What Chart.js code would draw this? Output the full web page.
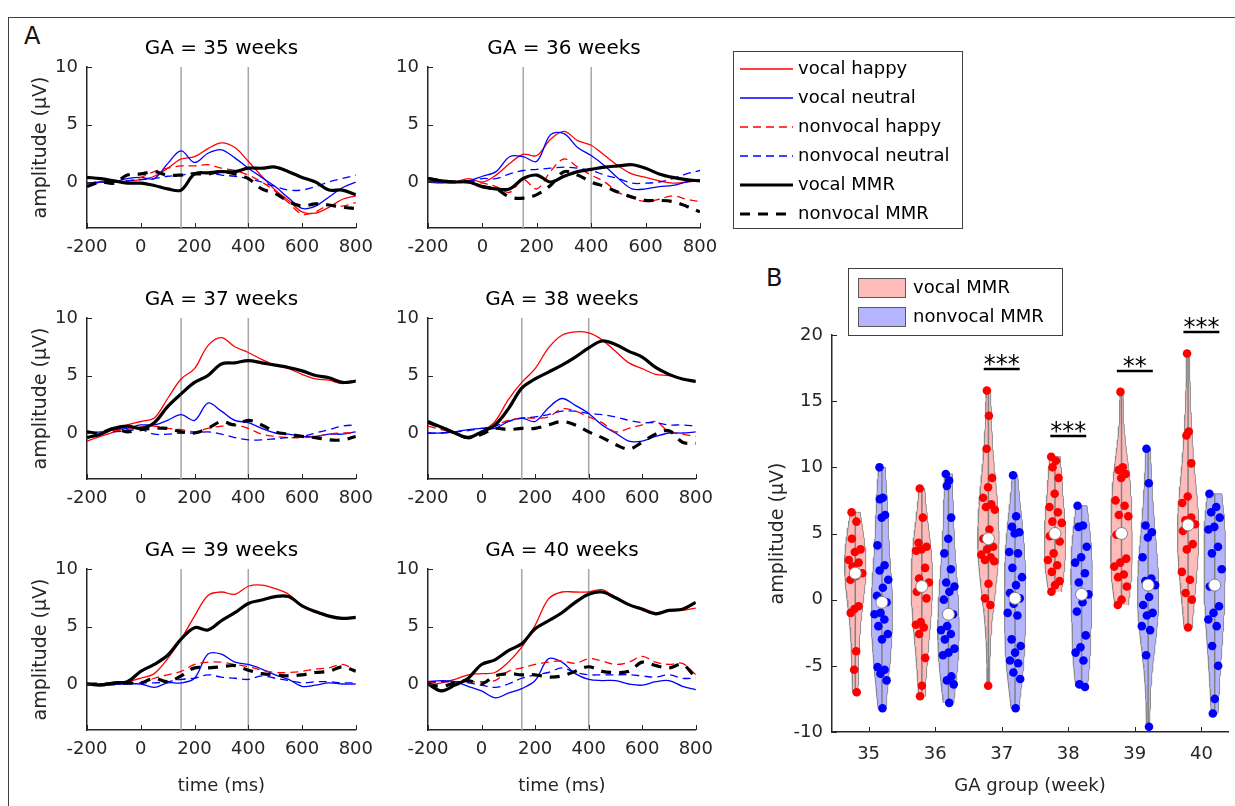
<!DOCTYPE html>
<html>
<head>
<meta charset="utf-8">
<script src="https://cdn.jsdelivr.net/npm/chart.js@4.4.1/dist/chart.umd.min.js"></script>
<style>
  body { margin: 0; background: #fff; width: 1235px; height: 806px; position: relative; overflow: hidden; }
  canvas { position: absolute; }
  .frame { position: absolute; left: 8px; top: 17px; width: 1240px; height: 800px; border-left: 1px solid #404040; border-top: 1px solid #404040; }
  .lbl { position: absolute; font: 24px/1 "DejaVu Sans", sans-serif; color: #111; }
</style>
</head>
<body>
<div class="frame"></div>
<div class="lbl" style="left:24px;top:24px">A</div>
<div class="lbl" style="left:766px;top:266px">B</div>
<script>
// ---- panel A : grand-average waveforms, sampled every 50 ms ----
const TIMES = [-200, -150, -100, -50, 0, 50, 100, 150, 200, 250, 300, 350, 400, 450, 500, 550, 600, 650, 700, 750, 800];
const WEEKS = [35, 36, 37, 38, 39, 40];
const MARKERS = [150, 400];
const X_TICKS = [-200, 0, 200, 400, 600, 800];
const Y_TICKS = [0, 5, 10];

const vocalHappy = [
  [-0.4, 0.0, 0.0, 0.1, 0.2, 0.5, 1.2, 2.0, 2.2, 2.9, 3.4, 3.0, 1.8, 0.5, -0.7, -1.6, -2.6, -2.7, -2.2, -1.5, -1.2],
  [0.0, -0.1, 0.0, 0.3, 0.0, 0.6, 1.6, 2.4, 2.3, 3.7, 4.4, 3.6, 3.2, 2.3, 1.4, 0.7, 0.4, 0.1, -0.1, 0.0, 0.1],
  [-0.7, -0.3, 0.1, 0.7, 1.0, 1.3, 3.0, 4.7, 5.6, 7.6, 8.3, 7.5, 7.0, 6.4, 5.9, 5.6, 5.1, 4.7, 4.6, 4.3, 4.6],
  [0.9, 0.5, 0.0, -0.4, 0.1, 1.0, 2.9, 4.4, 5.6, 7.4, 8.5, 8.8, 8.7, 8.1, 7.1, 6.1, 5.6, 5.1, 5.0, 4.7, 4.4],
  [0.0, -0.1, 0.1, 0.2, 0.5, 0.9, 2.2, 3.9, 5.9, 7.7, 8.0, 7.8, 8.5, 8.6, 8.3, 7.8, 6.8, 6.2, 5.9, 5.7, 5.8],
  [-0.1, 0.1, 0.4, 0.8, 0.9, 1.0, 1.9, 3.2, 5.1, 7.4, 8.0, 8.0, 8.0, 8.2, 7.5, 6.9, 6.6, 6.2, 6.4, 6.4, 6.6]
];
const vocalNeutral = [
  [-0.1, 0.0, 0.0, 0.3, 0.4, 0.3, 1.6, 2.7, 1.7, 2.5, 2.8, 2.1, 1.2, 0.4, -0.4, -1.4, -2.3, -2.1, -1.3, -0.5, 0.0],
  [0.0, 0.0, 0.0, 0.1, 0.5, 0.9, 2.2, 2.2, 1.8, 4.1, 4.2, 3.0, 2.3, 1.4, 0.3, -0.6, -0.6, -0.4, -0.3, 0.0, 0.2],
  [0.0, 0.1, 0.3, 0.4, 0.7, 0.7, 1.1, 1.6, 1.1, 2.6, 1.9, 1.1, 0.9, 0.4, 0.0, -0.1, -0.3, -0.3, -0.1, -0.1, 0.1],
  [0.0, 0.0, 0.1, 0.3, 0.4, 0.4, 1.0, 1.3, 1.0, 2.2, 3.0, 2.4, 1.7, 0.7, 0.0, -0.7, -0.7, -0.3, 0.0, 0.0, 0.1],
  [0.0, 0.0, 0.0, 0.0, 0.0, -0.3, 0.1, 0.1, 0.5, 2.6, 2.6, 1.9, 1.7, 1.3, 0.8, 0.4, -0.2, -0.1, 0.1, 0.0, 0.0],
  [0.2, 0.3, 0.2, -0.2, -0.6, -1.2, -0.8, -0.4, 0.3, 2.2, 1.9, 0.9, 0.4, 0.3, 0.3, 0.0, -0.1, 0.2, 0.3, -0.2, -0.5]
];
const nonvocalHappy = [
  [-0.2, 0.0, 0.0, 0.1, 0.4, 0.9, 1.2, 1.4, 1.4, 1.5, 1.2, 1.0, 0.6, 0.0, -0.8, -1.8, -2.8, -2.6, -2.0, -2.1, -1.8],
  [0.0, 0.0, 0.0, 0.1, -0.1, -0.4, -0.9, 0.2, -0.6, 0.9, 2.0, 1.3, 0.6, 0.0, -0.9, -1.4, -1.7, -1.5, -1.2, -1.5, -1.7],
  [0.0, 0.1, 0.2, 0.3, 0.5, 0.6, 0.4, 0.3, 0.1, 0.4, 0.6, 0.7, 0.4, -0.1, -0.3, -0.4, -0.4, -0.3, -0.1, 0.0, 0.0],
  [0.6, 0.3, 0.0, -0.3, 0.0, 0.6, 1.1, 1.3, 1.3, 1.4, 2.1, 1.9, 1.4, 0.9, 0.1, 0.4, 0.7, 1.0, 0.1, -0.1, -0.3],
  [0.0, 0.0, 0.0, 0.1, 0.1, 0.5, 0.8, 1.1, 1.7, 1.9, 1.9, 1.7, 1.5, 1.2, 1.0, 1.0, 1.1, 1.3, 1.4, 1.7, 1.2],
  [0.1, 0.2, 0.2, 0.2, 0.2, 0.3, 1.1, 1.4, 1.7, 1.9, 2.0, 1.8, 2.2, 2.0, 1.7, 1.9, 2.4, 1.9, 1.7, 1.8, 0.8]
];
const nonvocalNeutral = [
  [-0.1, 0.0, 0.0, 0.1, 0.2, 0.3, 0.5, 0.6, 0.8, 0.8, 0.6, 0.5, 0.3, 0.0, -0.4, -0.7, -0.7, -0.4, 0.0, 0.3, 0.6],
  [0.0, 0.0, 0.0, 0.1, 0.3, 0.3, 0.7, 1.0, 1.1, 1.2, 1.3, 1.2, 1.0, 0.6, 0.3, -0.1, -0.1, 0.0, 0.3, 0.7, 1.0],
  [0.0, 0.0, 0.1, 0.2, 0.3, -0.1, -0.1, 0.0, 0.0, 0.1, -0.1, -0.4, -0.6, -0.6, -0.5, -0.4, -0.3, 0.0, 0.3, 0.6, 0.7],
  [0.0, 0.0, 0.1, 0.2, 0.4, 0.6, 1.0, 1.3, 1.4, 1.6, 1.9, 1.9, 1.7, 1.6, 1.4, 1.1, 0.9, 0.9, 0.7, 0.7, 0.6],
  [0.0, 0.0, 0.0, 0.0, 0.1, 0.1, 0.2, 0.4, 0.5, 0.8, 0.6, 0.5, 0.4, 0.7, 0.5, 0.3, 0.1, 0.2, 0.2, 0.1, 0.1],
  [0.2, 0.2, 0.2, 0.1, -0.1, -0.3, 0.0, 0.5, 0.8, 1.0, 1.4, 1.0, 0.8, 0.8, 0.8, 0.8, 0.7, 0.6, 0.8, 0.5, 0.5]
];
const vocalMMR = [
  [0.4, 0.3, 0.1, -0.1, -0.1, -0.3, -0.6, -0.7, 0.7, 0.8, 0.9, 0.9, 1.2, 1.2, 1.3, 0.9, 0.4, 0.0, -0.7, -0.7, -1.1],
  [0.3, 0.1, 0.0, 0.0, -0.4, -0.6, -0.6, 0.3, 0.6, 0.0, 0.5, 0.9, 1.1, 1.3, 1.4, 1.5, 1.2, 0.7, 0.4, 0.2, 0.1],
  [-0.4, -0.1, 0.4, 0.6, 0.4, 0.9, 2.3, 3.4, 4.4, 5.0, 6.0, 6.1, 6.3, 6.1, 5.9, 5.7, 5.4, 5.0, 4.8, 4.4, 4.5],
  [1.0, 0.5, 0.0, -0.4, 0.1, 0.7, 2.1, 3.9, 4.7, 5.3, 5.9, 6.6, 7.4, 8.0, 7.7, 7.1, 6.6, 5.7, 5.1, 4.7, 4.5],
  [0.0, -0.1, 0.1, 0.2, 1.1, 1.7, 2.5, 3.9, 4.9, 4.7, 5.5, 6.2, 7.0, 7.3, 7.6, 7.6, 6.8, 6.3, 5.9, 5.7, 5.8],
  [0.0, -0.6, -0.1, 0.5, 1.7, 2.1, 2.9, 3.5, 4.8, 5.5, 6.2, 7.1, 7.8, 8.0, 7.5, 6.9, 6.5, 6.1, 6.4, 6.5, 7.1]
];
const nonvocalMMR = [
  [-0.4, 0.0, -0.1, 0.6, 0.7, 0.9, 0.6, 0.6, 0.7, 0.7, 0.9, 0.7, 0.3, -0.6, -1.0, -1.7, -2.1, -1.9, -2.0, -2.2, -2.3],
  [0.3, 0.1, 0.0, 0.0, -0.4, -0.6, -1.3, -1.4, -1.1, -0.3, 0.9, 0.6, 0.0, -0.4, -0.9, -1.3, -1.6, -1.6, -1.7, -2.1, -2.6],
  [0.1, 0.0, 0.4, 0.1, 0.3, 0.4, 0.4, 0.1, 0.0, 0.4, 1.0, 0.7, 1.1, 0.7, 0.1, -0.1, -0.3, -0.4, -0.6, -0.6, -0.3],
  [0.9, 0.5, 0.0, -0.4, -0.1, 0.4, 0.3, 0.4, 0.4, 0.7, 1.0, 0.7, 0.1, -0.4, -1.0, -1.4, -0.8, -0.1, 0.2, -0.8, -0.9],
  [0.0, 0.0, 0.0, 0.1, 0.1, 0.5, 0.2, 0.7, 1.4, 1.4, 1.5, 1.6, 1.2, 0.9, 0.8, 0.7, 0.8, 1.0, 1.1, 1.5, 1.1],
  [0.0, -0.2, 0.1, 0.3, 0.0, 0.7, 0.9, 0.8, 0.8, 0.6, 0.7, 1.1, 1.5, 1.1, 1.0, 1.1, 1.9, 1.6, 1.4, 1.7, 0.5]
];

// ---- panel B : single-subject MMR amplitudes per GA group ----
const vocalMMRAmp = [
  [6.6, 5.9, 4.6, 3.8, 3.6, 3.0, 2.8, 2.5, 2.0, 1.8, 1.5, -0.5, -0.7, -1.0, -3.9, -5.3, -7.0],
  [8.4, 6.2, 4.3, 4.0, 3.8, 3.7, 2.4, 1.6, 1.3, 1.0, 0.6, 0.1, -1.7, -1.9, -2.1, -2.6, -4.4, -6.5, -7.3],
  [15.8, 13.9, 11.4, 9.2, 8.5, 7.7, 7.2, 7.0, 6.8, 5.3, 4.6, 4.0, 3.8, 3.4, 3.2, 3.0, 2.9, 1.2, 0.1, -0.4, -6.5],
  [10.8, 10.5, 10.0, 9.2, 8.0, 7.0, 6.6, 5.9, 5.8, 5.0, 4.8, 4.4, 3.5, 3.0, 2.6, 2.1, 1.4, 1.1, 0.6],
  [15.7, 10.0, 9.8, 9.5, 9.2, 7.5, 7.1, 6.4, 6.3, 5.0, 4.9, 3.1, 2.8, 2.5, 1.9, 1.7, 1.0, 0.0, -0.4],
  [18.6, 12.7, 12.4, 10.3, 7.8, 7.3, 6.2, 6.0, 5.7, 5.6, 5.2, 4.2, 3.8, 2.1, 1.5, 0.5, 0.0, -2.1]
];
const nonvocalMMRAmp = [
  [10.0, 7.7, 7.6, 6.4, 6.2, 4.1, 2.6, 2.2, 1.5, 0.9, 0.3, -0.2, -1.0, -1.1, -1.5, -2.0, -2.6, -3.0, -5.1, -5.3, -5.6, -6.1, -8.2],
  [9.5, 9.0, 8.6, 6.2, 4.6, 3.5, 2.3, 1.3, 1.0, 0.6, 0.0, -1.1, -2.0, -2.3, -2.6, -3.0, -3.7, -4.0, -4.2, -5.8, -6.1, -6.4, -7.8],
  [9.4, 6.3, 5.5, 5.1, 5.0, 3.6, 3.5, 2.4, 1.7, 1.1, 0.5, 0.1, -0.3, -1.0, -1.2, -3.0, -3.5, -4.0, -4.6, -4.8, -5.5, -6.0, -8.2],
  [7.1, 5.6, 5.5, 4.0, 3.2, 2.8, 2.0, 1.3, 0.4, -0.2, -0.9, -2.7, -3.6, -4.0, -4.6, -6.4, -6.6],
  [11.4, 8.8, 5.6, 5.1, 4.7, 3.2, 1.6, 1.4, 1.1, 0.2, -0.4, -1.0, -1.2, -2.0, -2.3, -4.2, -9.6],
  [8.0, 7.0, 6.6, 6.2, 5.5, 5.3, 4.0, 3.5, 2.3, 1.1, 1.0, -0.5, -1.0, -1.5, -2.0, -3.5, -5.0, -7.5, -8.6]
];
const SIG_MARKS = ['', '', '***', '***', '**', '***'];

const FONT = '"DejaVu Sans", sans-serif';
Chart.defaults.font.family = FONT;
Chart.defaults.font.size = 18;
Chart.defaults.color = '#262626';
Chart.defaults.animation = false;

const SERIES = [
  {label: 'vocal happy', data: vocalHappy, color: '#ff0000', width: 1.3, dash: []},
  {label: 'vocal neutral', data: vocalNeutral, color: '#0000ff', width: 1.3, dash: []},
  {label: 'nonvocal happy', data: nonvocalHappy, color: '#ff0000', width: 1.3, dash: [8, 5]},
  {label: 'nonvocal neutral', data: nonvocalNeutral, color: '#0000ff', width: 1.3, dash: [8, 5]},
  {label: 'vocal MMR', data: vocalMMR, color: '#000000', width: 3.2, dash: []},
  {label: 'nonvocal MMR', data: nonvocalMMR, color: '#000000', width: 3.2, dash: [10, 8]}
];

function makeCanvas(left, top, w, h) {
  const cv = document.createElement('canvas');
  cv.width = w; cv.height = h;
  cv.style.left = left + 'px'; cv.style.top = top + 'px';
  document.body.appendChild(cv);
  return cv;
}

// matlab style ticks pointing into the axes
const inTicks = {
  id: 'inTicks',
  afterDraw(chart) {
    const {ctx, chartArea: a, scales: {x, y}} = chart;
    ctx.save();
    ctx.strokeStyle = '#262626';
    ctx.lineWidth = 1;
    ctx.beginPath();
    x.ticks.forEach(t => {
      const px = Math.round(x.getPixelForValue(t.value)) + 0.5;
      ctx.moveTo(px, a.bottom); ctx.lineTo(px, a.bottom - 5);
    });
    y.ticks.forEach(t => {
      const py = Math.round(y.getPixelForValue(t.value)) + 0.5;
      ctx.moveTo(a.left, py); ctx.lineTo(a.left + 5, py);
    });
    ctx.stroke();
    ctx.restore();
  }
};

// boxed legend with line samples
const lineLegend = {
  id: 'lineLegend',
  afterDraw(chart, args, opts) {
    if (!opts.show) return;
    const ctx = chart.ctx;
    ctx.save();
    ctx.strokeStyle = '#404040';
    ctx.lineWidth = 1;
    ctx.strokeRect(opts.x + 0.5, opts.y + 0.5, opts.w, opts.h);
    ctx.font = '18px ' + FONT;
    ctx.textBaseline = 'middle';
    ctx.fillStyle = '#000';
    chart.data.datasets.filter(d => d.label).forEach((d, i) => {
      const yy = opts.y + 18 + i * 29;
      ctx.beginPath();
      ctx.setLineDash(d.borderDash);
      ctx.strokeStyle = d.borderColor;
      ctx.lineWidth = d.borderWidth;
      ctx.moveTo(opts.x + 7, yy); ctx.lineTo(opts.x + 60, yy);
      ctx.stroke();
      ctx.setLineDash([]);
      ctx.fillText(d.label, opts.x + 65, yy);
    });
    ctx.restore();
  }
};

function erpChart(week, col, row) {
  const wi = WEEKS.indexOf(week);
  const plotL = col ? 428 : 87, plotW = col ? 272 : 273;
  const plotT = [67, 318, 569][row], plotH = 161;
  const yw = col ? 58 : 77, th = 34, xh = row === 2 ? 67 : 36;
  const extra = week === 36 ? 250 : 0;
  const cv = makeCanvas(plotL - yw, plotT - th, yw + plotW + 22 + extra, th + plotH + xh);

  const datasets = SERIES.map((s, k) => ({
    label: s.label,
    data: TIMES.map((t, i) => ({x: t, y: s.data[wi][i]})),
    borderColor: s.color,
    borderWidth: s.width,
    borderDash: s.dash,
    showLine: true,
    pointRadius: 0,
    tension: 0.35,
    order: SERIES.length - k
  }));
  MARKERS.forEach(m => datasets.push({
    label: '',
    data: [{x: m, y: -4}, {x: m, y: 10}],
    borderColor: '#a6a6a6', borderWidth: 1.5, borderDash: [],
    showLine: true, pointRadius: 0, order: 20
  }));

  new Chart(cv, {
    type: 'scatter',
    data: {datasets},
    options: {
      responsive: false,
      events: [],
      layout: {padding: {right: 22 + extra}},
      plugins: {
        legend: {display: false},
        tooltip: {enabled: false},
        title: {display: true, text: 'GA = ' + week + ' weeks', fullSize: false, color: '#000',
                font: {size: 20, weight: 'normal'}, padding: {top: 4, bottom: 6}},
        lineLegend: {show: extra > 0, x: 363, y: 18, w: 229, h: 177}
      },
      scales: {
        x: {
          type: 'linear', min: -200, max: 800,
          afterBuildTicks: s => { s.ticks = X_TICKS.map(v => ({value: v})); },
          afterFit: s => { s.height = xh; },
          grid: {display: false, drawTicks: false},
          border: {color: '#262626', width: 1.5},
          ticks: {padding: 9},
          title: {display: row === 2, text: 'time (ms)', padding: {top: 0, bottom: 0}}
        },
        y: {
          min: -4, max: 10,
          afterBuildTicks: s => { s.ticks = Y_TICKS.map(v => ({value: v})); },
          afterFit: s => { s.width = yw; },
          grid: {display: false, drawTicks: false},
          border: {color: '#262626', width: 1.5},
          ticks: {padding: 9},
          title: {display: col === 0, text: 'amplitude (μV)', font: {size: 19}, padding: {top: 20, bottom: 0}}
        }
      }
    },
    plugins: [inTicks, lineLegend]
  });
}

erpChart(35, 0, 0); erpChart(36, 1, 0);
erpChart(37, 0, 1); erpChart(38, 1, 1);
erpChart(39, 0, 2); erpChart(40, 1, 2);

// ---- violins ----
const HALF = 0.16;
function violin(vals) {
  const n = vals.length;
  const mean = vals.reduce((a, b) => a + b, 0) / n;
  const sd = Math.sqrt(vals.reduce((a, b) => a + (b - mean) ** 2, 0) / (n - 1));
  const h = 1.06 * sd * Math.pow(n, -0.2);
  const kde = y => vals.reduce((s, v) => s + Math.exp(-0.5 * ((y - v) / h) ** 2), 0);
  const lo = Math.min(...vals), hi = Math.max(...vals);
  const ys = [];
  for (let k = 0; k <= 80; k++) ys.push(lo + (hi - lo) * k / 80);
  const dmax = Math.max(...ys.map(kde));
  return {lo, hi, ys, width: y => HALF * kde(y) / dmax};
}
function median(vals) {
  const s = [...vals].sort((a, b) => a - b), m = s.length >> 1;
  return s.length % 2 ? s[m] : (s[m - 1] + s[m]) / 2;
}

const groups = [];
WEEKS.forEach((w, i) => {
  groups.push({vals: vocalMMRAmp[i], cx: w - 0.2, fill: 'rgba(255,0,0,0.27)', dot: '#ff0000'});
  groups.push({vals: nonvocalMMRAmp[i], cx: w + 0.2, fill: 'rgba(0,0,255,0.29)', dot: '#0000ff'});
});

const bSets = [];
bSets.push({
  data: groups.map(g => ({x: g.cx, y: median(g.vals)})),
  pointRadius: 6, pointBackgroundColor: '#fff', pointBorderColor: '#7f7f7f', pointBorderWidth: 1, order: 0
});
groups.forEach(g => {
  const v = violin(g.vals);
  bSets.push({
    data: g.vals.map((y, j) => ({x: g.cx + v.width(y) * (((j * 0.618034) % 1) * 1.5 - 0.75), y})),
    pointRadius: 4.3, pointBackgroundColor: g.dot, pointBorderWidth: 0, order: 1
  });
  bSets.push({
    data: [{x: g.cx, y: v.lo}, {x: g.cx, y: v.hi}],
    showLine: true, borderColor: '#808080', borderWidth: 1.5, pointRadius: 0, order: 2
  });
  const right = v.ys.map(y => ({x: g.cx + v.width(y), y}));
  const left = v.ys.map(y => ({x: g.cx - v.width(y), y})).reverse();
  bSets.push({
    data: right.concat(left),
    showLine: true, fill: 'shape', backgroundColor: g.fill, borderColor: '#8c8c8c', borderWidth: 1,
    pointRadius: 0, tension: 0, order: 3
  });
});

const panelB = {
  id: 'panelB',
  afterDraw(chart) {
    const {ctx, scales: {x, y}} = chart;
    ctx.save();
    // significance bars
    ctx.strokeStyle = '#000'; ctx.lineWidth = 2.5; ctx.fillStyle = '#000';
    ctx.font = '24px ' + FONT; ctx.textAlign = 'center'; ctx.textBaseline = 'alphabetic';
    WEEKS.forEach((w, i) => {
      if (!SIG_MARKS[i]) return;
      const py = Math.round(y.getPixelForValue(Math.max(...vocalMMRAmp[i], ...nonvocalMMRAmp[i]) + 1.6));
      ctx.beginPath();
      ctx.moveTo(x.getPixelForValue(w - 0.27), py); ctx.lineTo(x.getPixelForValue(w + 0.27), py);
      ctx.stroke();
      ctx.fillText(SIG_MARKS[i], x.getPixelForValue(w), py + 3);
    });
    // legend
    const lx = 93, ly = 13;
    ctx.lineWidth = 1; ctx.strokeStyle = '#404040';
    ctx.fillStyle = '#fff';
    ctx.fillRect(lx, ly, 214, 67);
    ctx.strokeRect(lx + 0.5, ly + 0.5, 214, 67);
    ctx.textAlign = 'left'; ctx.textBaseline = 'middle'; ctx.font = '18px ' + FONT;
    [['vocal MMR', groups[0].fill], ['nonvocal MMR', groups[1].fill]].forEach(([txt, col], k) => {
      const ry = ly + 10 + k * 29;
      ctx.fillStyle = col; ctx.fillRect(lx + 10, ry, 47, 19);
      ctx.strokeStyle = '#595959'; ctx.strokeRect(lx + 10.5, ry + 0.5, 47, 19);
      ctx.fillStyle = '#000'; ctx.fillText(txt, lx + 65, ry + 10);
    });
    ctx.restore();
  }
};

new Chart(makeCanvas(755, 255, 480, 551), {
  type: 'scatter',
  data: {datasets: bSets},
  options: {
    responsive: false,
    events: [],
    layout: {padding: {top: 80, right: 7}},
    plugins: {legend: {display: false}, tooltip: {enabled: false}},
    scales: {
      x: {
        type: 'linear', min: 34.45, max: 40.4,
        afterBuildTicks: s => { s.ticks = WEEKS.map(v => ({value: v})); },
        afterFit: s => { s.height = 74; },
        grid: {display: false, drawTicks: false},
        border: {color: '#262626', width: 1.5},
        ticks: {padding: 12},
        title: {display: true, text: 'GA group (week)', padding: {top: 0, bottom: 9}}
      },
      y: {
        min: -10, max: 20,
        ticks: {stepSize: 5, padding: 9},
        afterFit: s => { s.width = 77; },
        grid: {display: false, drawTicks: false},
        border: {color: '#262626', width: 1.5},
        title: {display: true, text: 'amplitude (μV)', font: {size: 19}, padding: {top: 12, bottom: 0}}
      }
    }
  },
  plugins: [inTicks, panelB]
});
</script>
</body>
</html>
